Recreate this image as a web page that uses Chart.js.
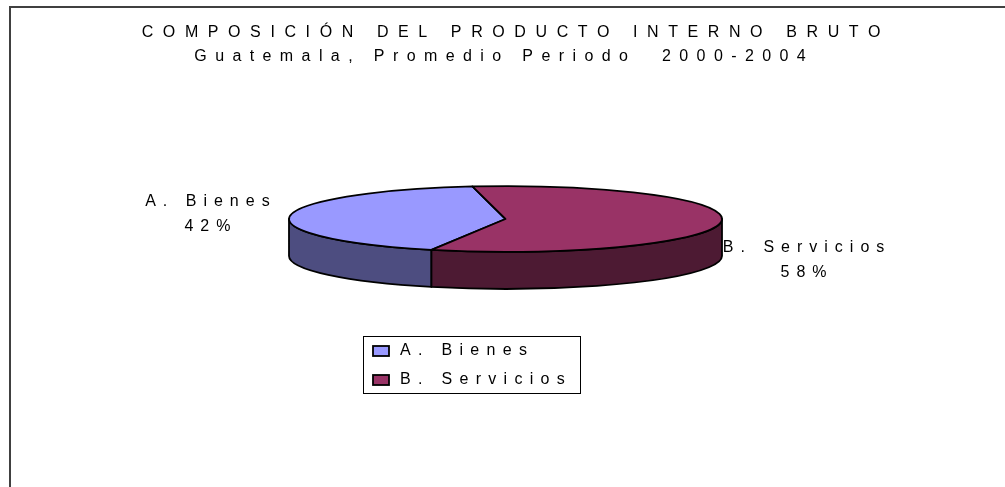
<!DOCTYPE html>
<html>
<head>
<meta charset="utf-8">
<script src="https://cdn.jsdelivr.net/npm/chart.js@4.4.1/dist/chart.umd.min.js"></script>
<style>
  html, body { margin: 0; padding: 0; background: #ffffff; }
  #wrap { position: relative; width: 1005px; height: 487px; }
  canvas { display: block; }
</style>
</head>
<body>
<div id="wrap"><canvas id="c" width="1005" height="487"></canvas></div>
<script>
// ---- data ----
const categories = ['A. Bienes', 'B. Servicios'];
const shares = [42, 58];
const titleText = 'COMPOSICIÓN DEL PRODUCTO INTERNO BRUTO';
const subtitleText = 'Guatemala, Promedio Periodo  2000-2004';

// ---- style ----
const topColors = ['#9999FF', '#993366'];
const sideColors = ['#4D4D80', '#4D1A33'];
const FONT = '"Liberation Sans", Arial, Helvetica, sans-serif';
const TILT = 33 / 217;     // vertical flattening of the pie
const DEPTH = 37;          // thickness of the 3D pie
const LABEL_GAP = 83;
const LABEL_DY = [-2, 38];

function spacedText(ctx, text, x, y, size, spacing, align) {
  ctx.save();
  ctx.font = size + 'px ' + FONT;
  ctx.letterSpacing = spacing + 'px';
  ctx.textBaseline = 'middle';
  ctx.textAlign = 'left';
  const w = ctx.measureText(text).width - spacing;
  let sx = x;
  if (align === 'center') sx = x - w / 2;
  ctx.fillStyle = '#000';
  ctx.fillText(text, sx, y);
  ctx.restore();
}

const pie3d = {
  id: 'pie3d',
  beforeDatasetsDraw(chart) {
    const ctx = chart.ctx;
    const meta = chart.getDatasetMeta(0);
    const arcs = meta.data;
    if (!arcs.length) return false;
    const cx = arcs[0].x, cy = arcs[0].y, rx = arcs[0].outerRadius, ry = rx * TILT;
    ctx.save();
    ctx.lineWidth = 1.8;
    ctx.strokeStyle = '#000';
    ctx.lineJoin = 'round';
    // side walls (front half only)
    arcs.forEach((a, i) => {
      const s = a.startAngle, e = a.endAngle;
      for (let k = -2; k <= 2; k++) {
        const lo = Math.max(s, 2 * Math.PI * k);
        const hi = Math.min(e, 2 * Math.PI * k + Math.PI);
        if (lo < hi) {
          ctx.beginPath();
          ctx.ellipse(cx, cy, rx, ry, 0, lo, hi, false);
          ctx.lineTo(cx + rx * Math.cos(hi), cy + ry * Math.sin(hi) + DEPTH);
          ctx.ellipse(cx, cy + DEPTH, rx, ry, 0, hi, lo, true);
          ctx.closePath();
          ctx.fillStyle = sideColors[i];
          ctx.fill();
          ctx.stroke();
        }
      }
    });
    // top faces
    arcs.forEach((a, i) => {
      ctx.beginPath();
      ctx.moveTo(cx, cy);
      ctx.ellipse(cx, cy, rx, ry, 0, a.startAngle, a.endAngle, false);
      ctx.closePath();
      ctx.fillStyle = topColors[i];
      ctx.fill();
      ctx.stroke();
    });
    ctx.restore();

    // data labels
    const values = chart.data.datasets[0].data;
    const total = values.reduce((p, v) => p + v, 0);
    arcs.forEach((a, i) => {
      const mid = (a.startAngle + a.endAngle) / 2;
      const lx = cx + Math.cos(mid) * (rx + LABEL_GAP);
      const ly = cy + Math.sin(mid) * ry + LABEL_DY[i];
      spacedText(ctx, chart.data.labels[i], lx, ly - 12.5, 16, 7, 'center');
      spacedText(ctx, Math.round(values[i] / total * 100) + '%', lx, ly + 12.5, 16, 7, 'center');
    });
    return false;
  },
  afterDraw(chart) {
    const ctx = chart.ctx;
    // frame
    ctx.save();
    ctx.strokeStyle = '#404040';
    ctx.lineWidth = 2;
    ctx.beginPath();
    ctx.moveTo(1005, 7);
    ctx.lineTo(10, 7);
    ctx.lineTo(10, 487);
    ctx.stroke();
    ctx.restore();
    // titles
    spacedText(ctx, titleText, 511, 33, 16, 9.6, 'center');
    spacedText(ctx, subtitleText, 500, 57, 16, 8.4, 'center');
    // legend
    ctx.save();
    ctx.strokeStyle = '#000';
    ctx.lineWidth = 1;
    ctx.strokeRect(363.5, 336.5, 217, 57);
    chart.data.labels.forEach((lab, i) => {
      const y = 351 + i * 29;
      ctx.fillStyle = topColors[i];
      ctx.fillRect(373, y - 5, 16, 10);
      ctx.lineWidth = 1.8;
      ctx.strokeRect(373, y - 5, 16, 10);
      spacedText(ctx, lab, 400, y, 16, 7.3, 'left');
    });
    ctx.restore();
  }
};

new Chart(document.getElementById('c'), {
  type: 'pie',
  data: {
    labels: categories,
    datasets: [{
      data: shares,
      backgroundColor: topColors,
      borderWidth: 0
    }]
  },
  options: {
    responsive: false,
    animation: false,
    rotation: 200,
    layout: { padding: { left: 289, right: 283, top: 2, bottom: 51 } },
    plugins: {
      legend: { display: false },
      title: { display: false },
      tooltip: { enabled: false }
    }
  },
  plugins: [pie3d]
});
</script>
</body>
</html>
